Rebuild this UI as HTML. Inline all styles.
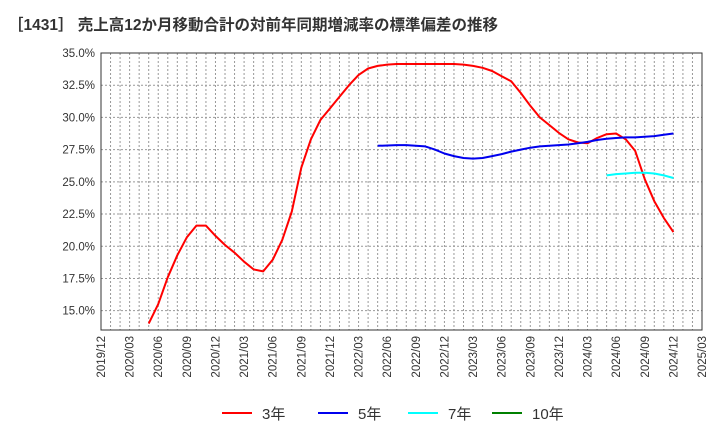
<!DOCTYPE html>
<html><head><meta charset="utf-8"><style>
body{margin:0;background:#fff;font-family:"Liberation Sans","Noto Sans CJK JP",sans-serif;}
svg text{font-family:"Liberation Sans","Noto Sans CJK JP",sans-serif;}
</style></head><body>
<svg id="chart" width="720" height="440" xmlns="http://www.w3.org/2000/svg">
<text x="8" y="30" font-size="15.5" font-weight="bold" fill="#333">［1431］ 売上高12か月移動合計の対前年同期増減率の標準偏差の推移</text>
<g id="grid"></g><g id="axes"></g><g id="series"></g>
<g id="legend"></g>
</svg>
<script>
const xTickLabels=["2019/12","2020/03","2020/06","2020/09","2020/12","2021/03","2021/06","2021/09","2021/12","2022/03","2022/06","2022/09","2022/12","2023/03","2023/06","2023/09","2023/12","2024/03","2024/06","2024/09","2024/12","2025/03"];
const yTicks=[15,17.5,20,22.5,25,27.5,30,32.5,35];
const red3Start=5;
const red3=[14.0,15.5,17.6,19.3,20.7,21.6,21.6,20.8,20.1,19.5,18.8,18.2,18.05,18.95,20.5,22.7,26.1,28.3,29.8,30.7,31.6,32.5,33.3,33.8,34.0,34.1,34.15,34.15,34.15,34.15,34.15,34.15,34.15,34.1,34.0,33.85,33.6,33.2,32.8,31.9,30.9,30.0,29.4,28.8,28.3,28.05,28.0,28.4,28.7,28.75,28.3,27.4,25.2,23.5,22.2,21.1];
const blue5Start=29;
const blue5=[27.8,27.82,27.85,27.85,27.8,27.75,27.5,27.2,27.0,26.85,26.8,26.85,27.0,27.15,27.35,27.5,27.65,27.75,27.8,27.85,27.9,28.0,28.1,28.25,28.35,28.4,28.45,28.45,28.5,28.55,28.65,28.75];
const cyan7Start=53;
const cyan7=[25.5,25.6,25.65,25.7,25.7,25.65,25.5,25.3];
const green10=[];
const X0=101,X1=702,Y0=53,Y1=330,NM=63;
const xs=m=>X0+(X1-X0)*m/NM;
const ys=v=>Y0+(35-v)*(Y1-Y0)/(35-13.5);
const NS="http://www.w3.org/2000/svg";
function mk(t,a,p){const e=document.createElementNS(NS,t);for(const k in a)e.setAttribute(k,a[k]);p.appendChild(e);return e;}
const grid=document.getElementById('grid'),axes=document.getElementById('axes'),ser=document.getElementById('series'),leg=document.getElementById('legend');
for(let m=1;m<NM;m++){const l=mk('line',{x1:xs(m),x2:xs(m),y1:Y0,y2:Y1,stroke:'#999','stroke-width':1,'stroke-dasharray':'2,2'},grid);

}
yTicks.forEach(v=>{const l=mk('line',{x1:X0,x2:X1,y1:ys(v),y2:ys(v),stroke:'#999','stroke-width':1,'stroke-dasharray':'2,2'},grid);


const t=mk('text',{x:95,y:ys(v)+4,'text-anchor':'end','font-size':11.5,fill:'#333'},axes);t.textContent=v.toFixed(1)+'%';

});
xTickLabels.forEach((s,i)=>{const x=xs(i*3);const t=mk('text',{x:0,y:0,'text-anchor':'end','font-size':11.5,fill:'#333',transform:`translate(${x+4},${Y1+6}) rotate(-90)`},axes);t.textContent=s;

});
const fr=mk('rect',{x:X0,y:Y0,width:X1-X0,height:Y1-Y0,fill:'none',stroke:'#333','stroke-width':1},axes);


function line(arr,start,col,name){if(!arr.length)return;const d=arr.map((v,i)=>(i?'L':'M')+xs(start+i).toFixed(1)+','+ys(v).toFixed(1)).join('');
const p=mk('path',{d:d,fill:'none',stroke:col,'stroke-width':2,'stroke-linejoin':'round'},ser);

}
line(red3,red3Start,'#ff0000','series-3y');
line(blue5,blue5Start,'#0000ee','series-5y');
line(cyan7,cyan7Start,'#00ffff','series-7y');
line(green10,0,'#008000','series-10y');
const items=[['3年','#ff0000',222],['5年','#0000ee',318],['7年','#00ffff',408],['10年','#008000',492]];
items.forEach(it=>{const g=mk('g',{},leg);


mk('line',{x1:it[2],x2:it[2]+30,y1:413,y2:413,stroke:it[1],'stroke-width':2},g);
const t=mk('text',{x:it[2]+40,y:419,'font-size':15,fill:'#333'},g);t.textContent=it[0];});
</script>
</body></html>
